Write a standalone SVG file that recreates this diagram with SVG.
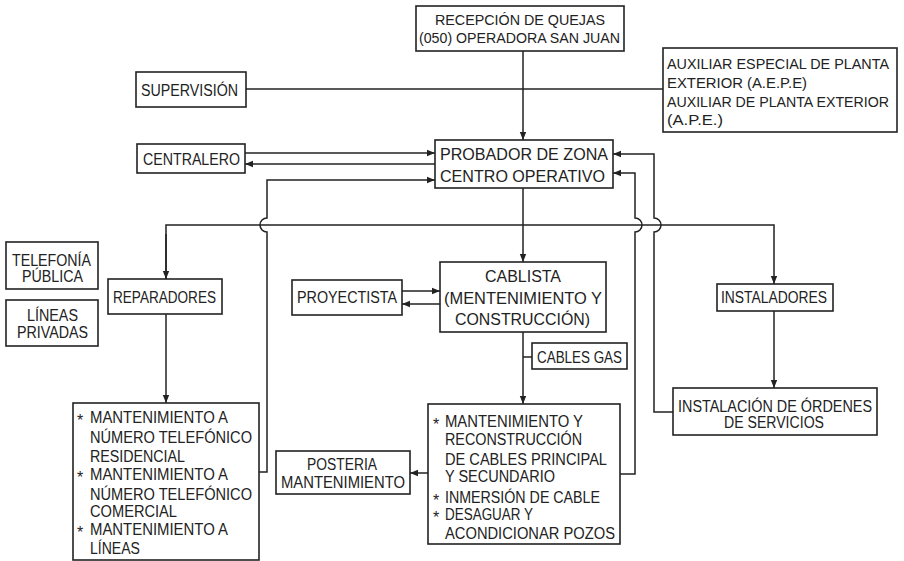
<svg xmlns="http://www.w3.org/2000/svg" width="904" height="561" viewBox="0 0 904 561">
<defs>
<style>
.b{fill:#fff;stroke:#222;stroke-width:1.6}
.t{font-family:"Liberation Sans",Arial,sans-serif;font-size:16px;fill:#222}
.s{font-size:14px}
.m{font-size:15px}
.c{fill:none;stroke:#222;stroke-width:1.5}
</style>
<marker id="a" viewBox="0 0 8 8" refX="8" refY="4" markerWidth="8" markerHeight="8" markerUnits="userSpaceOnUse" orient="auto">
<path d="M0,0.8 L8,4 L0,7.2 Z" fill="#222"/>
</marker>
</defs>
<rect width="904" height="561" fill="#fff"/>

<g id="connectors">
<path class="c" d="M523,51 V140" marker-end="url(#a)"/>
<path class="c" d="M246,89 H663"/>
<path class="c" d="M245,153 H435" marker-end="url(#a)"/>
<path class="c" d="M435,164 H245" marker-end="url(#a)"/>
<path class="c" d="M259,472 H267 V232 A7,7 0 0 1 267,218 V180 H435" marker-end="url(#a)"/>
<path class="c" d="M523,188 V262" marker-end="url(#a)"/>
<path class="c" d="M166,279 V225 H774 V284" marker-end="url(#a)"/>
<path class="c" d="M166,234 V279" marker-end="url(#a)"/>
<path class="c" d="M402,291 H440" marker-end="url(#a)"/>
<path class="c" d="M440,304 H402" marker-end="url(#a)"/>
<path class="c" d="M523,332 V404" marker-end="url(#a)"/>
<path class="c" d="M523,357 H532"/>
<path class="c" d="M428,473 H410" marker-end="url(#a)"/>
<path class="c" d="M620,474 H635 V232 A7,7 0 0 0 635,218 V173 H613" marker-end="url(#a)"/>
<path class="c" d="M673,412 H654 V232 A7,7 0 0 0 654,218 V154 H613" marker-end="url(#a)"/>
<path class="c" d="M166,314 V403" marker-end="url(#a)"/>
<path class="c" d="M774,311 V388" marker-end="url(#a)"/>
</g>

<g id="recepcion">
<rect class="b" x="416" y="6" width="208" height="45"/>
<text class="t s" x="435" y="25" textLength="170" lengthAdjust="spacingAndGlyphs">RECEPCIÓN DE QUEJAS</text>
<text class="t s" x="419" y="43" textLength="201" lengthAdjust="spacingAndGlyphs">(050) OPERADORA SAN JUAN</text>
</g>

<g id="supervision">
<rect class="b" x="136" y="72" width="110" height="35"/>
<text class="t" x="141" y="96" textLength="97" lengthAdjust="spacingAndGlyphs">SUPERVISIÓN</text>
</g>

<g id="auxiliar">
<rect class="b" x="663" y="48" width="234" height="84"/>
<text class="t m" x="667" y="69" textLength="222" lengthAdjust="spacingAndGlyphs">AUXILIAR ESPECIAL DE PLANTA</text>
<text class="t m" x="667" y="88" textLength="140" lengthAdjust="spacingAndGlyphs">EXTERIOR (A.E.P.E)</text>
<text class="t m" x="667" y="107" textLength="222" lengthAdjust="spacingAndGlyphs">AUXILIAR DE PLANTA EXTERIOR</text>
<text class="t m" x="667" y="125" textLength="56" lengthAdjust="spacingAndGlyphs">(A.P.E.)</text>
</g>

<g id="centralero">
<rect class="b" x="137" y="144" width="108" height="29"/>
<text class="t" x="143" y="165" textLength="97" lengthAdjust="spacingAndGlyphs">CENTRALERO</text>
</g>

<g id="probador">
<rect class="b" x="435" y="140" width="178" height="48"/>
<text class="t" x="440" y="160" textLength="168" lengthAdjust="spacingAndGlyphs">PROBADOR DE ZONA</text>
<text class="t" x="440" y="182" textLength="165" lengthAdjust="spacingAndGlyphs">CENTRO OPERATIVO</text>
</g>

<g id="telefonia">
<rect class="b" x="6" y="242" width="92" height="47"/>
<text class="t" x="12" y="266" textLength="79" lengthAdjust="spacingAndGlyphs">TELEFONÍA</text>
<text class="t" x="22" y="282" textLength="61" lengthAdjust="spacingAndGlyphs">PÚBLICA</text>
</g>

<g id="lineas">
<rect class="b" x="6" y="300" width="92" height="46"/>
<text class="t" x="27" y="321" textLength="51" lengthAdjust="spacingAndGlyphs">LÍNEAS</text>
<text class="t" x="17" y="338" textLength="71" lengthAdjust="spacingAndGlyphs">PRIVADAS</text>
</g>

<g id="reparadores">
<rect class="b" x="108" y="279" width="114" height="35"/>
<text class="t" x="113" y="303" textLength="103" lengthAdjust="spacingAndGlyphs">REPARADORES</text>
</g>

<g id="proyectista">
<rect class="b" x="292" y="280" width="110" height="35"/>
<text class="t" x="297" y="303" textLength="100" lengthAdjust="spacingAndGlyphs">PROYECTISTA</text>
</g>

<g id="cablista">
<rect class="b" x="440" y="262" width="166" height="70"/>
<text class="t" x="485" y="282" textLength="76" lengthAdjust="spacingAndGlyphs">CABLISTA</text>
<text class="t" x="444" y="304" textLength="158" lengthAdjust="spacingAndGlyphs">(MENTENIMIENTO Y</text>
<text class="t" x="455" y="325" textLength="135" lengthAdjust="spacingAndGlyphs">CONSTRUCCIÓN)</text>
</g>

<g id="cables-gas">
<rect class="b" x="532" y="343" width="95" height="26"/>
<text class="t" x="537" y="363" textLength="85" lengthAdjust="spacingAndGlyphs">CABLES GAS</text>
</g>

<g id="instaladores">
<rect class="b" x="717" y="284" width="116" height="27"/>
<text class="t" x="721" y="303" textLength="106" lengthAdjust="spacingAndGlyphs">INSTALADORES</text>
</g>

<g id="instalacion">
<rect class="b" x="673" y="388" width="204" height="47"/>
<text class="t" x="678" y="412" textLength="194" lengthAdjust="spacingAndGlyphs">INSTALACIÓN DE ÓRDENES</text>
<text class="t" x="724" y="428" textLength="100" lengthAdjust="spacingAndGlyphs">DE SERVICIOS</text>
</g>

<g id="mantenimiento-numeros">
<rect class="b" x="73" y="403" width="186" height="157"/>
<text class="t" x="77" y="426">*</text>
<text class="t" x="90" y="423" textLength="138" lengthAdjust="spacingAndGlyphs">MANTENIMIENTO A</text>
<text class="t" x="90" y="443" textLength="162" lengthAdjust="spacingAndGlyphs">NÚMERO TELEFÓNICO</text>
<text class="t" x="90" y="462" textLength="95" lengthAdjust="spacingAndGlyphs">RESIDENCIAL</text>
<text class="t" x="77" y="483">*</text>
<text class="t" x="90" y="480" textLength="138" lengthAdjust="spacingAndGlyphs">MANTENIMIENTO A</text>
<text class="t" x="90" y="500" textLength="162" lengthAdjust="spacingAndGlyphs">NÚMERO TELEFÓNICO</text>
<text class="t" x="90" y="517" textLength="87" lengthAdjust="spacingAndGlyphs">COMERCIAL</text>
<text class="t" x="77" y="538">*</text>
<text class="t" x="90" y="535" textLength="138" lengthAdjust="spacingAndGlyphs">MANTENIMIENTO A</text>
<text class="t" x="90" y="554" textLength="50" lengthAdjust="spacingAndGlyphs">LÍNEAS</text>
</g>

<g id="posteria">
<rect class="b" x="276" y="451" width="134" height="43"/>
<text class="t" x="307" y="470" textLength="70" lengthAdjust="spacingAndGlyphs">POSTERIA</text>
<text class="t" x="281" y="488" textLength="124" lengthAdjust="spacingAndGlyphs">MANTENIMIENTO</text>
</g>

<g id="mantenimiento-cables">
<rect class="b" x="428" y="404" width="192" height="140"/>
<text class="t" x="433" y="430">*</text>
<text class="t" x="445" y="427" textLength="138" lengthAdjust="spacingAndGlyphs">MANTENIMIENTO Y</text>
<text class="t" x="445" y="445" textLength="137" lengthAdjust="spacingAndGlyphs">RECONSTRUCCIÓN</text>
<text class="t" x="445" y="465" textLength="162" lengthAdjust="spacingAndGlyphs">DE CABLES PRINCIPAL</text>
<text class="t" x="445" y="482" textLength="110" lengthAdjust="spacingAndGlyphs">Y SECUNDARIO</text>
<text class="t" x="433" y="506">*</text>
<text class="t" x="445" y="503" textLength="155" lengthAdjust="spacingAndGlyphs">INMERSIÓN DE CABLE</text>
<text class="t" x="433" y="523">*</text>
<text class="t" x="445" y="520" textLength="88" lengthAdjust="spacingAndGlyphs">DESAGUAR Y</text>
<text class="t" x="445" y="539" textLength="170" lengthAdjust="spacingAndGlyphs">ACONDICIONAR POZOS</text>
</g>
</svg>
